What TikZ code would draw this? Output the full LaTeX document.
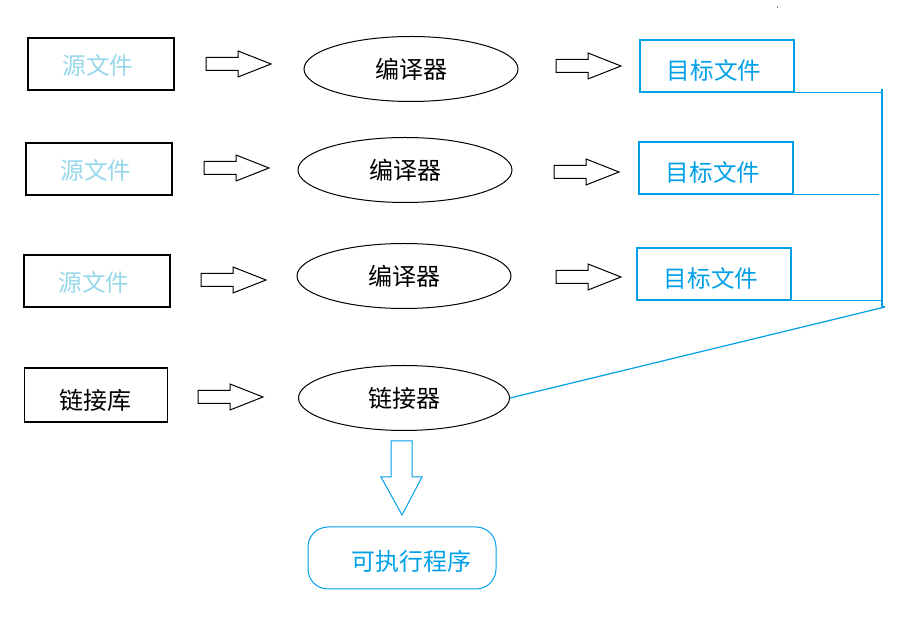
\documentclass[tikz,border=0pt]{standalone}
\usepackage{fontspec}
\setmainfont{Noto Sans CJK SC}
\usepackage{xcolor}
\usetikzlibrary{shapes.geometric,positioning,calc}

\definecolor{srcblue}{RGB}{150,215,235}
\definecolor{objblue}{RGB}{0,160,233}

\begin{document}
\begin{tikzpicture}[
    x=0.5pt,y=-0.5pt,
    srcbox/.style={draw,line width=0.7pt,minimum width=73pt,minimum height=26pt,text=srcblue,text height=11pt,text depth=0pt,font=\fontsize{11.8}{13}\selectfont},
    objbox/.style={draw=objblue,line width=0.7pt,minimum width=77pt,minimum height=26pt,text=objblue,text height=14pt,text depth=0pt,font=\fontsize{11.8}{13}\selectfont},
    tool/.style={draw,line width=0.5pt,ellipse,minimum width=107pt,minimum height=32.5pt,font=\fontsize{12}{13}\selectfont},
    wire/.style={draw=objblue,line width=0.6pt},
    rarrow/.pic={\draw[line width=0.5pt] (0,-6.5) -- (32,-6.5) -- (32,-13) -- (65,0) -- (32,13) -- (32,6.5) -- (0,6.5) -- cycle;},
]
    \useasboundingbox (0,0) rectangle (916,619);

    % three source files, compilers and object files
    \node[srcbox] (src1) at (101,64) {源文件\hspace*{3pt}};
    \node[srcbox] (src2) at (99,169) {源文件\hspace*{3pt}};
    \node[srcbox] (src3) at (97,281) {源文件\hspace*{3pt}};

    \node[tool] (cc1) at (411,69) {编译器};
    \node[tool] (cc2) at (405,170) {编译器};
    \node[tool] (cc3) at (404,276) {编译器};

    \node[objbox] (obj1) at (717,66) {目标文件\hspace*{3pt}};
    \node[objbox] (obj2) at (716,168) {目标文件\hspace*{3pt}};
    \node[objbox] (obj3) at (714,274) {目标文件\hspace*{3pt}};

    \pic at (206,64) {rarrow};
    \pic at (204,168) {rarrow};
    \pic at (201,280) {rarrow};
    \pic at (556,66) {rarrow};
    \pic at (554,172) {rarrow};
    \pic at (556,277) {rarrow};

    % library and linker
    \node[srcbox,text=black,minimum width=71.5pt,minimum height=27pt,text height=15pt,font=\fontsize{12}{13}\selectfont] (lib) at (96,395) {链接库\hspace*{1pt}};
    \node[tool,minimum width=105.5pt] (ld) at (404,398) {链接器};
    \pic at (198,397) {rarrow};

    % object files collected into the linker
    \coordinate (bus) at (882,89);
    \coordinate (busend) at (882,307);
    \coordinate (tail) at (885,307);
    \draw[wire] (obj1.south east) -- (obj1.south east -| bus);
    \draw[wire] (obj2.south east) -- ($(obj2.south east -| bus)+(-3,0)$);
    \draw[wire] (obj3.south east) -- (obj3.south east -| bus);
    \draw[wire] (bus) -- (busend) -- (tail);
    \draw[wire] (tail) -- (ld.east);

    % executable
    \node[draw=objblue,line width=0.5pt,rounded corners=10pt,minimum width=94pt,minimum height=31pt,text=objblue,text height=13pt,text depth=0pt,font=\fontsize{12}{13}\selectfont] (exe) at (402,558) {\hspace*{9pt}可执行程序};
    \draw[draw=objblue,line width=0.5pt] (391,441) -- (412,441) -- (412,477) -- (422,477) -- (402,515) -- (381,477) -- (391,477) -- cycle;

    \fill[gray] (776.5,6.5) rectangle (778,8);
\end{tikzpicture}
\end{document}
